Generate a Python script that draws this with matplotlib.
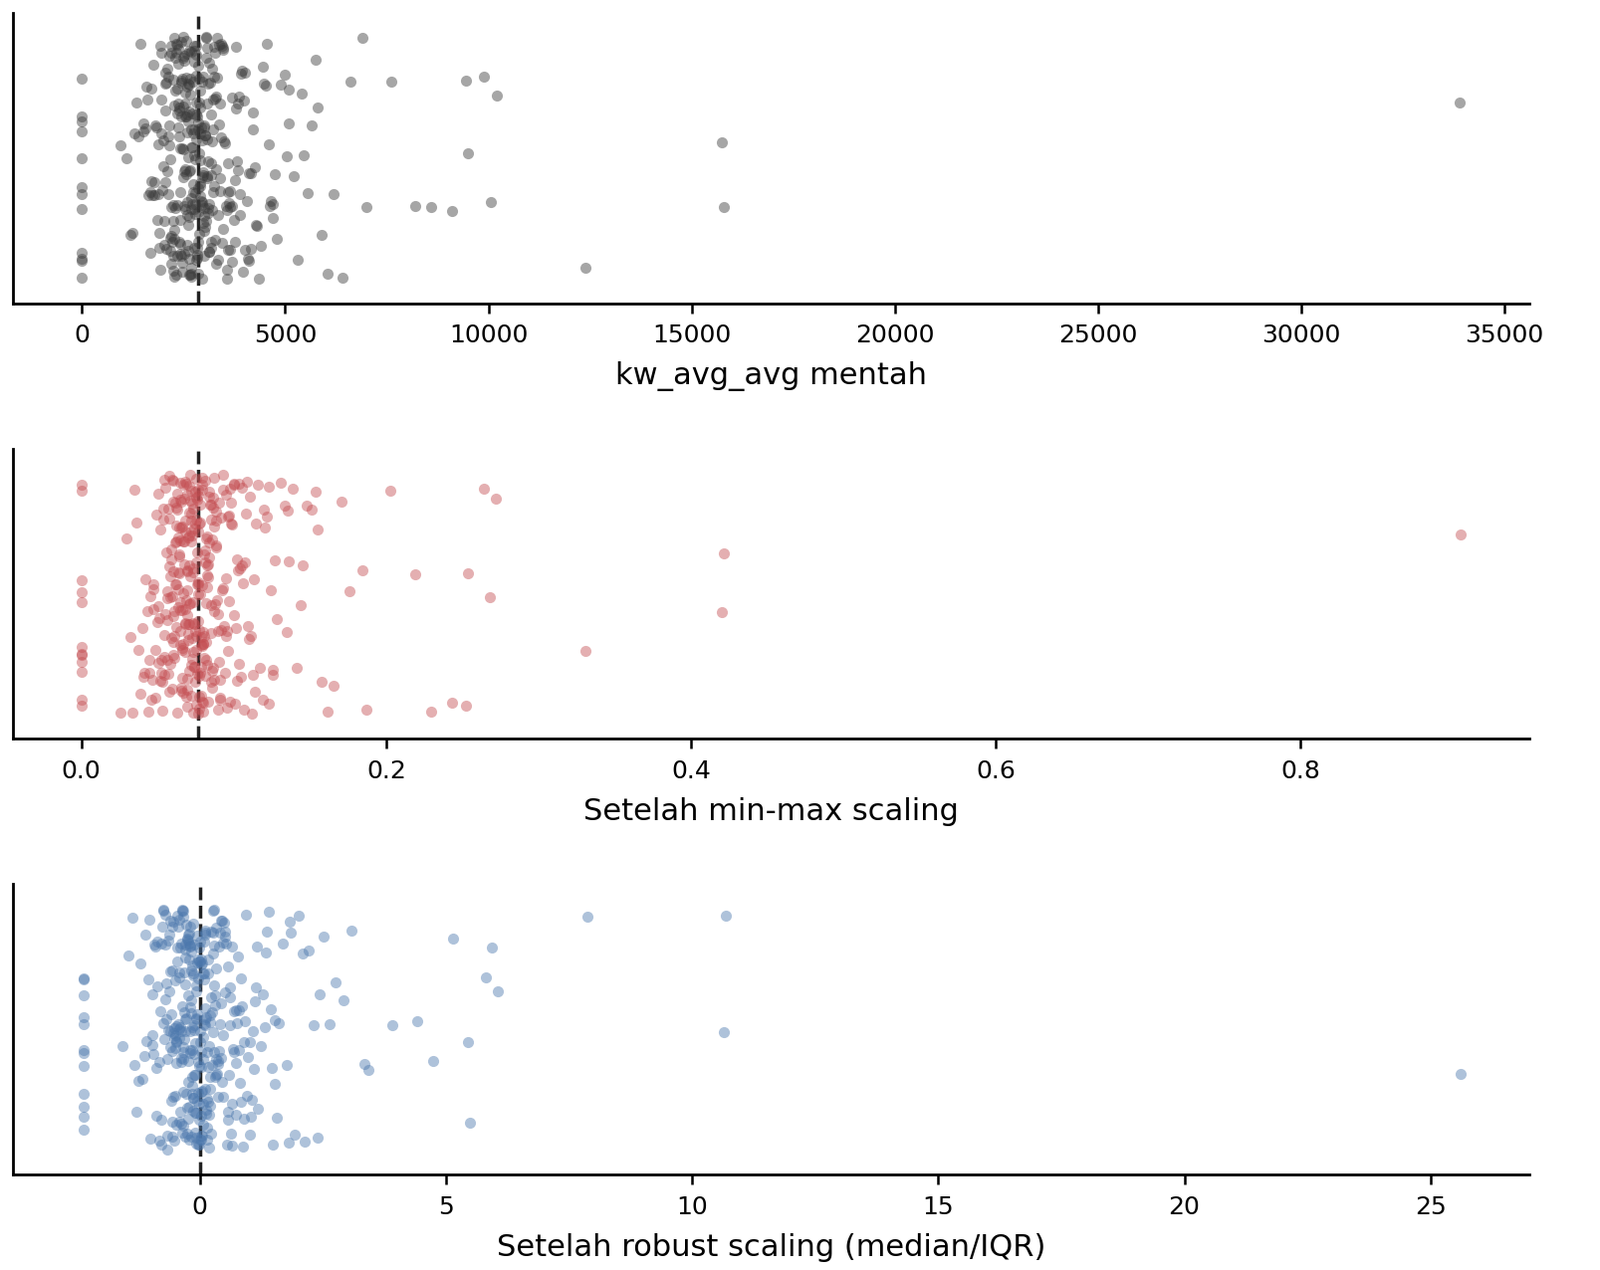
import matplotlib
matplotlib.use("Agg")
import matplotlib.pyplot as plt
import seaborn as sns
import numpy as np

# kw_avg_avg values (approximate)
kw_avg_avg = [
    1850, 2100, 2230, 2310, 2400, 2470, 2520, 2580, 2640, 2690, 2730, 2780, 2820, 2870, 2910, 2960, 3010, 3080, 3150, 3230,
    1620, 1980, 2150, 2260, 2350, 2430, 2500, 2560, 2610, 2660, 2710, 2760, 2800, 2850, 2900, 2950, 3040, 3120, 3200, 3310,
    1720, 2050, 2190, 2290, 2380, 2450, 2540, 2600, 2650, 2700, 2750, 2790, 2840, 2890, 2940, 2990, 3060, 3170, 3280, 3420,
    1400, 1900, 2120, 2240, 2330, 2420, 2490, 2570, 2630, 2680, 2740, 2810, 2860, 2930, 3020, 3100, 3190, 3360, 3520, 3700,
    1250, 1780, 2020, 2200, 2360, 2480, 2550, 2620, 2720, 2830, 2880, 2970, 3050, 3140, 3250, 3400, 3580, 3780, 3950, 4150,
    1100, 1550, 1880, 2080, 2280, 2410, 2590, 2670, 2770, 2920, 3090, 3210, 3330, 3480, 3650, 3850, 4050, 4300, 4550, 4800,
    950, 1350, 1680, 1950, 2170, 2340, 2510, 2690, 2810, 3000, 3180, 3390, 3600, 3820, 4100, 4400, 4700, 5000, 5300, 5650,
    1300, 1700, 2000, 2270, 2460, 2620, 2840, 3030, 3270, 3500, 3740, 3980, 4250, 4600, 4900, 5200, 5550, 5900, 6200, 6600,
    1500, 1820, 2140, 2390, 2560, 2760, 2980, 3230, 3450, 3690, 3920, 4200, 4480, 4750, 5050, 5400, 5750, 6050, 6400, 6900,
    2200, 2440, 2650, 2880, 3110, 3300, 3550, 3760, 4020, 4350, 4650, 5100, 5800, 7000, 7600, 8200, 8600, 9100, 9500, 9450,
    2300, 2500, 2700, 2900, 3100, 2600, 2800, 3000, 2400, 2650, 2750, 2550, 2850, 2950, 2450, 3050, 3350, 3600, 2250, 2050,
    1580, 1760, 1930, 2070, 2180, 2270, 2370, 2440, 2510, 2590, 2670, 2740, 2830, 2910, 3000, 3130, 3260, 3440, 3640, 3880,
    1450, 1640, 1810, 1960, 2110, 2210, 2320, 2420, 2530, 2610, 2700, 2790, 2880, 2980, 3070, 3210, 3370, 3560, 3790, 4080,
    1680, 1870, 2030, 2160, 2250, 2340, 2460, 2550, 2630, 2720, 2810, 2900, 3000, 3110, 3240, 3400, 3590, 3830, 4120, 4460,
    1200, 1520, 1740, 1920, 2060, 2190, 2300, 2400, 2490, 2580, 2660, 2760, 2860, 2960, 3080, 3220, 3380, 3560, 3760, 4000,
    1780, 1960, 2120, 2240, 2350, 2440, 2520, 2610, 2690, 2780, 2870, 2960, 3070, 3190, 3320, 3470, 3650, 3890, 4210, 4620,
    1900, 2040, 2170, 2280, 2380, 2470, 2560, 2640, 2730, 2810, 2900, 3010, 3130, 3270, 3430, 3630, 3870, 4160, 4520, 5080,
    2010, 2130, 2250, 2340, 2430, 2510, 2590, 2680, 2770, 2860, 2950, 3060, 3180, 3310, 3470, 3680, 3940, 4270, 4700, 5450,
    0, 0, 0, 0, 0, 0, 0, 0, 0, 0, 0, 0, 9900, 10050, 10200, 12400, 15800, 15750, 33900,
]
median_kw = 2860
iqr_kw = 1212
max_kw_full = 37460

raw = np.array(kw_avg_avg, dtype=float)
minmax = raw / max_kw_full
robust = (raw - median_kw) / iqr_kw

panels = [
    (raw, median_kw, "#3a3a3a", "kw_avg_avg mentah"),
    (minmax, median_kw / max_kw_full, "#c44e52", "Setelah min-max scaling"),
    (robust, 0.0, "#4c78ad", "Setelah robust scaling (median/IQR)"),
]

fig, axes = plt.subplots(3, 1, figsize=(16.08, 12.76), dpi=100)
fig.subplots_adjust(left=0.008, right=0.955, top=0.99, bottom=0.075, hspace=0.5)

for ax, (vals, med, color, label) in zip(axes, panels):
    sns.stripplot(x=vals, ax=ax, color=color, alpha=0.45, size=8, jitter=0.3,
                  linewidth=0, orient="h")
    ax.axvline(med, color="#222222", linestyle="--", linewidth=2.5)
    ax.set_ylim(0.36, -0.36)
    ax.set_yticks([])
    ax.set_xlabel(label, fontsize=22, labelpad=10)
    ax.tick_params(axis="x", labelsize=18, length=7, width=1.8, pad=8)
    for s in ["top", "right"]:
        ax.spines[s].set_visible(False)
    for s in ["left", "bottom"]:
        ax.spines[s].set_linewidth(2)

axes[0].set_xticks(np.arange(0, 35001, 5000))
axes[0].set_xlim(-1700, 35600)
axes[1].set_xlim(-0.045, 0.95)
axes[2].set_xlim(-3.8, 27)

fig.savefig("out.png", dpi=100)
